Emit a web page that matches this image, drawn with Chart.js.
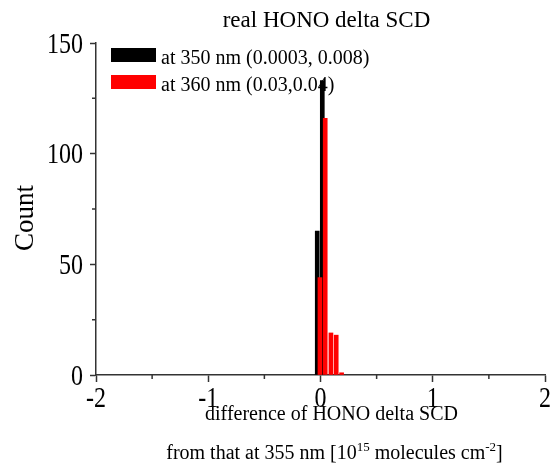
<!DOCTYPE html>
<html>
<head>
<meta charset="utf-8">
<script src="https://cdn.jsdelivr.net/npm/chart.js@4"></script>
<style>
  body { margin: 0; background: #fff; }
  #wrap { width: 551px; height: 466px; }
</style>
</head>
<body>
<div id="wrap"><canvas id="histChart"></canvas></div>
<script>
var chartTitle = 'real HONO delta SCD';
var xTitleLine1 = 'difference of HONO delta SCD';
var yTitle = 'Count';
var seriesLabels = ['at 350 nm (0.0003, 0.008)', 'at 360 nm (0.03,0.04)'];
var seriesColors = ['#000000', '#ff0000'];

// bin centres and counts
var binsBlack = [-0.029, 0.016];
var countsBlack = [65, 133];
var binsRed = [-0.005, 0.042, 0.093, 0.140, 0.188];
var countsRed = [44, 116, 19, 18, 1];

var xTicks = [-2, -1, 0, 1, 2];
var xMinorTicks = [-1.5, -0.5, 0.5, 1.5];
var yTicks = [0, 50, 100, 150];
var yMinorTicks = [25, 75, 125];

var serif = "'Liberation Serif', 'Times New Roman', serif";
var axisColor = '#333333';
var stretch = 1.2; // tick labels in the original are drawn a little tall

function toPoints(xs, ys) {
    var pts = [];
    for (var i = 0; i < xs.length; i++) {
        pts.push({x: xs[i], y: ys[i]});
    }
    return pts;
}

function tallText(ctx, text, x, y, align) {
    ctx.save();
    ctx.textAlign = align;
    ctx.textBaseline = 'alphabetic';
    ctx.scale(1, stretch);
    ctx.fillText(text, x, y / stretch);
    ctx.restore();
}

// minor ticks, tick labels, titles and legend drawn on top of the chart
var decorPlugin = {
    id: 'decor',
    afterDraw: function (chart) {
        var ctx = chart.ctx;
        var area = chart.chartArea;
        var xs = chart.scales.x;
        var ys = chart.scales.y;
        ctx.save();

        ctx.strokeStyle = axisColor;
        ctx.lineWidth = 1.5;
        ctx.beginPath();
        xMinorTicks.forEach(function (v) {
            var px = xs.getPixelForValue(v);
            ctx.moveTo(px, area.bottom);
            ctx.lineTo(px, area.bottom + 4);
        });
        yMinorTicks.forEach(function (v) {
            var py = ys.getPixelForValue(v);
            ctx.moveTo(area.left, py);
            ctx.lineTo(area.left - 4, py);
        });
        ctx.stroke();

        ctx.fillStyle = '#000';
        ctx.font = '24px ' + serif;
        xTicks.forEach(function (v) {
            tallText(ctx, String(v), xs.getPixelForValue(v), area.bottom + 32, 'center');
        });
        yTicks.forEach(function (v) {
            tallText(ctx, String(v), area.left - 13, ys.getPixelForValue(v) + 9.5, 'right');
        });

        var cx = (area.left + area.right) / 2 + 8;
        ctx.textAlign = 'center';
        ctx.textBaseline = 'alphabetic';
        ctx.font = '23px ' + serif;
        ctx.fillText(chartTitle, cx - 2, 27);

        // x axis title, two lines, with superscripts
        ctx.font = '20px ' + serif;
        ctx.fillText(xTitleLine1, cx + 3, 420);
        var parts = [
            {t: 'from that at 355 nm [10'},
            {t: '15', sup: true},
            {t: ' molecules cm'},
            {t: '-2', sup: true},
            {t: ']'}
        ];
        var total = 0;
        parts.forEach(function (p) {
            ctx.font = (p.sup ? '13px ' : '20px ') + serif;
            p.w = ctx.measureText(p.t).width;
            total += p.w;
        });
        var x0 = cx + 6 - total / 2;
        ctx.textAlign = 'left';
        parts.forEach(function (p) {
            ctx.font = (p.sup ? '13px ' : '20px ') + serif;
            ctx.fillText(p.t, x0, p.sup ? 451 : 459);
            x0 += p.w;
        });

        // y axis title
        ctx.save();
        ctx.translate(33, 218);
        ctx.rotate(-Math.PI / 2);
        ctx.textAlign = 'center';
        ctx.font = '27px ' + serif;
        ctx.fillText(yTitle, 0, 0);
        ctx.restore();

        // legend inside the plot
        ctx.font = '20px ' + serif;
        ctx.textAlign = 'left';
        for (var i = 0; i < seriesLabels.length; i++) {
            var top = area.top + 5 + i * 27;
            ctx.fillStyle = seriesColors[i];
            ctx.fillRect(area.left + 15, top, 45, 14);
            ctx.fillStyle = '#000';
            ctx.fillText(seriesLabels[i], area.left + 65, top + 16);
        }
        ctx.restore();
    }
};

var ctx = document.getElementById('histChart').getContext('2d');
new Chart(ctx, {
    type: 'bar',
    data: {
        datasets: [{
                label: seriesLabels[0],
                data: toPoints(binsBlack, countsBlack),
                backgroundColor: seriesColors[0],
                barThickness: 4,
                grouped: false,
                order: 2
            },
            {
                label: seriesLabels[1],
                data: toPoints(binsRed, countsRed),
                backgroundColor: seriesColors[1],
                barThickness: 4,
                grouped: false,
                order: 1
            }
        ]
    },
    options: {
        responsive: true,
        maintainAspectRatio: false,
        animation: false,
        devicePixelRatio: 1,
        layout: {
            padding: {top: 43, right: 6, left: 0, bottom: 0}
        },
        plugins: {
            legend: {display: false},
            title: {display: false},
            tooltip: {enabled: false}
        },
        scales: {
            x: {
                type: 'linear',
                min: -2,
                max: 2,
                offset: false,
                afterFit: function (scale) {
                    scale.height = 91;
                },
                afterBuildTicks: function (scale) {
                    scale.ticks = xTicks.map(function (v) { return {value: v}; });
                },
                grid: {
                    drawOnChartArea: false,
                    offset: false,
                    tickLength: 7,
                    tickColor: axisColor,
                    tickWidth: 1.5
                },
                border: {color: axisColor, width: 1.5},
                ticks: {display: false}
            },
            y: {
                min: 0,
                max: 150,
                afterFit: function (scale) {
                    scale.width = 96;
                },
                afterBuildTicks: function (scale) {
                    scale.ticks = yTicks.map(function (v) { return {value: v}; });
                },
                grid: {
                    drawOnChartArea: false,
                    tickLength: 6,
                    tickColor: axisColor,
                    tickWidth: 1.5
                },
                border: {color: axisColor, width: 1.5},
                ticks: {display: false}
            }
        }
    },
    plugins: [decorPlugin]
});
</script>
</body>
</html>
